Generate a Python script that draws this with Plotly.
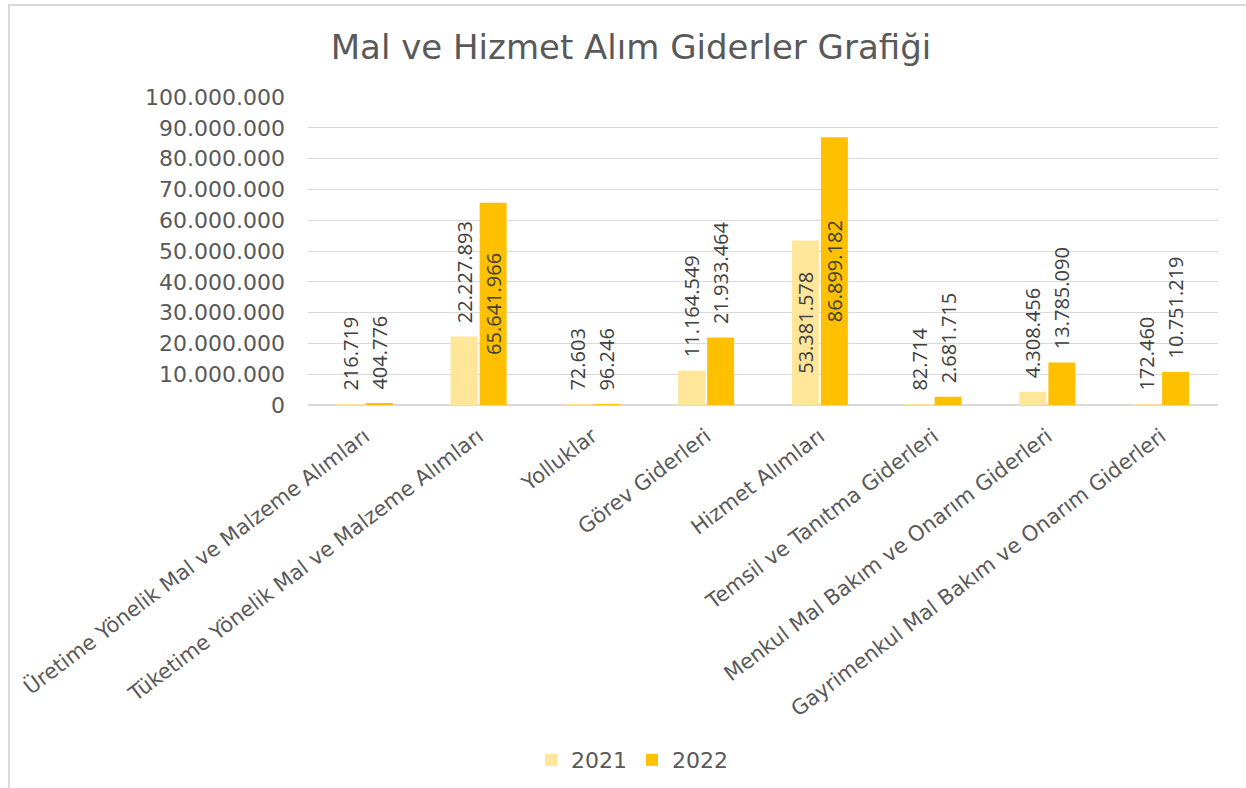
import plotly.graph_objects as go

categories = [
    "Üretime Yönelik Mal ve Malzeme Alımları",
    "Tüketime Yönelik Mal ve Malzeme Alımları",
    "Yolluklar",
    "Görev Giderleri",
    "Hizmet Alımları",
    "Temsil ve Tanıtma Giderleri",
    "Menkul Mal Bakım ve Onarım Giderleri",
    "Gayrimenkul Mal Bakım ve Onarım Giderleri",
]
values_2021 = [216719, 22227893, 72603, 11164549, 53381578, 82714, 4308456, 172460]
values_2022 = [404776, 65641966, 96246, 21933464, 86899182, 2681715, 13785090, 10751219]
series_names = ["2021", "2022"]
y_tick_values = [0, 10000000, 20000000, 30000000, 40000000, 50000000,
                 60000000, 70000000, 80000000, 90000000, 100000000]

colors = ["#FFE699", "#FFC000"]
W, H = 1246, 788
L, R, T, B = 308, 28, 97, 383
pw, ph = W - L - R, H - T - B

def fmt(v):
    return f"{v:,}".replace(",", ".")

def positions(vals):
    return ["inside" if v > 40000000 else "outside" for v in vals]

def texts(vals):
    return [fmt(v) if v > 40000000 else "\u00a0\u00a0" + fmt(v) for v in vals]

fig = go.Figure()
for name, vals, col in zip(series_names, [values_2021, values_2022], colors):
    fig.add_trace(go.Bar(
        name=name, x=categories, y=vals, marker=dict(color=col, line=dict(width=0)),
        text=texts(vals), textposition=positions(vals), textangle=-90,
        insidetextanchor="middle", constraintext="none", cliponaxis=False,
        textfont=dict(family="Open Sans", size=20, color="#404040"),
        hoverinfo="x+y",
    ))

fig.update_layout(
    width=W, height=H,
    margin=dict(l=L, r=R, t=T, b=B, autoexpand=False),
    paper_bgcolor="white", plot_bgcolor="white",
    barmode="group", bargap=0.49, bargroupgap=0.07,
    font=dict(family="DejaVu Sans", color="#595959"),
    title=dict(text="Mal ve Hizmet Alım Giderler Grafiği", x=631 / W,
               xanchor="center", y=1 - 47 / H, yanchor="middle",
               font=dict(family="DejaVu Sans", size=34, color="#595959")),
    showlegend=True,
    legend=dict(orientation="h", x=(632 - L) / pw, xanchor="center",
                y=(405 - 760) / ph, yanchor="middle",
                font=dict(family="DejaVu Sans", size=22, color="#595959"),
                traceorder="normal", itemwidth=30),
    xaxis=dict(tickangle=-37, tickfont=dict(family="DejaVu Sans", size=21, color="#595959"),
               showgrid=False, showline=False, ticks="", automargin=False,
               ticklabelstandoff=14),
    yaxis=dict(range=[0, 100000000], tickvals=y_tick_values,
               ticktext=[fmt(v) for v in y_tick_values],
               tickfont=dict(family="DejaVu Sans", size=22, color="#595959"),
               showgrid=True, gridcolor="#d9d9d9", gridwidth=1,
               zeroline=True, zerolinecolor="#d9d9d9", zerolinewidth=2,
               showline=False, ticks="", ticklabelstandoff=22, automargin=False),
    shapes=[dict(type="rect", xref="paper", yref="paper",
                 x0=(9 - L) / pw, x1=(W + 20 - L) / pw,
                 y0=-(B + 20) / ph, y1=1 + (T - 5) / ph,
                 line=dict(color="#d9d9d9", width=2), fillcolor="rgba(0,0,0,0)", layer="below")],
)

fig.write_html("out.html", config={"displayModeBar": False},
               post_script="document.body.style.margin='0';")
